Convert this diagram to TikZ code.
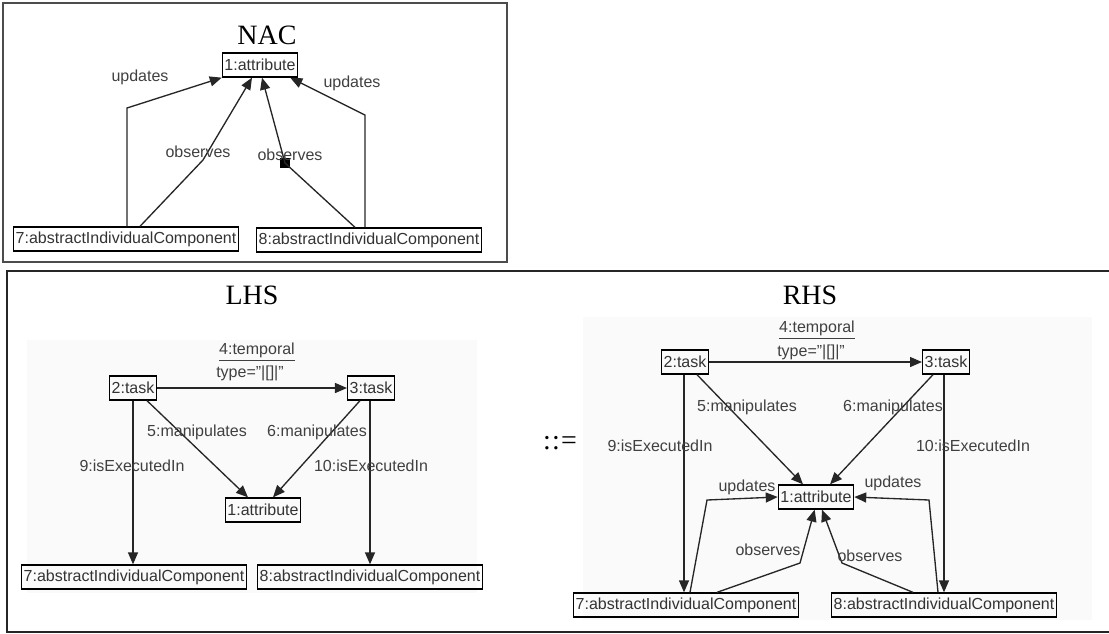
\documentclass[tikz,border=0pt]{standalone}
\usepackage{fontspec}
\setmainfont{Liberation Serif}
\setsansfont{Liberation Sans}
\usetikzlibrary{arrows.meta}

\begin{document}
\begin{tikzpicture}[x=0.75pt,y=-0.75pt,
  obj/.style={draw,line width=1pt,inner xsep=1.5pt,inner ysep=0pt,minimum height=18pt,
    font=\sffamily\fontsize{12}{14}\selectfont,text=black!80},
  lbl/.style={font=\sffamily\fontsize{12}{14}\selectfont,text=black!75,inner sep=1pt},
  ttl/.style={font=\fontsize{21}{25}\selectfont},
  rel/.style={-{Triangle[length=9pt,width=7.5pt]},line width=1pt,black!85}]
\useasboundingbox (0,0) rectangle (1109,633);

% frames and diagram areas
\fill[black!2] (27,340) rectangle (477,593);
\fill[black!2] (583,317) rectangle (1092,620);
\draw[black!70,line width=1pt] (3,3) rectangle (507,262);
\draw[black!85,line width=1.2pt] (1109,271) -- (7,271) -- (7,632) -- (1109,632);

% NAC
\node[ttl] (nacT) at (267,35) {NAC};
\node[obj] (nA1) at (260,65) {1:attribute};
\node[obj] (nC7) at (126,239) {7:abstractIndividualComponent};
\node[obj] (nC8) at (369,240) {8:abstractIndividualComponent};
\coordinate (nU7) at (127,108);
\coordinate (nO7) at (203,160);
\coordinate (nU8) at (365,115);
\node[fill=black,inner sep=0pt,minimum size=7pt] (nSq) at (285,163) {};
\draw[rel] (nU7 |- nC7.north) -- (nU7) -- (nA1.south west);
\draw[rel] ([xshift=10.5pt]nC7.north) -- (nO7) -- ([xshift=-6pt]nA1.south);
\draw[rel] ([xshift=-10.5pt]nC8.north) -- (nSq.center) -- ([xshift=1.5pt]nA1.south);
\draw[rel] (nU8 |- nC8.north) -- (nU8) -- ([xshift=-6pt]nA1.south east);
\node[lbl] (nL1) at (140,77) {updates};
\node[lbl] (nL2) at (198,152) {observes};
\node[lbl] (nL3) at (290,155) {observes};
\node[lbl] (nL4) at (352,83) {updates};

% LHS
\node[ttl] (lhsT) at (252,295) {LHS};
\node[obj] (lT2) at (133,388) {2:task};
\node[obj] (lT3) at (371,388) {3:task};
\node[obj] (lA1) at (263,510) {1:attribute};
\node[obj] (lC7) at (134,577) {7:abstractIndividualComponent};
\node[obj] (lC8) at (370,577) {8:abstractIndividualComponent};
\draw[rel] (lT2.east) -- (lT3.west);
\draw[rel] ([xshift=10.5pt]lT2.south) -- ([xshift=-11.25pt]lA1.north);
\draw[rel] ([xshift=-8.25pt]lT3.south) -- ([xshift=7.5pt]lA1.north);
\draw[rel] (lT2.south) -- (lT2.south |- lC7.north);
\draw[rel] ([xshift=-0.75pt]lT3.south) -- ([xshift=-0.75pt]lT3.south |- lC8.north);
\node[lbl] (lTmp) at (257,352) {\underline{4:temporal}};
\node[lbl] (lTyp) at (250,373) {type=\char34|[]|\char34};
\node[lbl] (lM5) at (197,432) {5:manipulates};
\node[lbl] (lM6) at (317,432) {6:manipulates};
\node[lbl] (lE9) at (132,466) {9:isExecutedIn};
\node[lbl] (lE10) at (371,466) {10:isExecutedIn};

\node[ttl] (defT) at (560,443) {:\kern1pt:\kern1pt=};

% RHS
\node[ttl] (rhsT) at (810,295) {RHS};
\node[obj] (rT2) at (685,362) {2:task};
\node[obj] (rT3) at (946,362) {3:task};
\node[obj] (rA1) at (816,497) {1:attribute};
\node[obj] (rC7) at (686,605) {7:abstractIndividualComponent};
\node[obj] (rC8) at (944,605) {8:abstractIndividualComponent};
\coordinate (rU7) at (707,500);
\coordinate (rU8) at (929,500);
\coordinate (rO7) at (800,563);
\coordinate (rO8) at (842,563);
\draw[rel] (rT2.east) -- (rT3.west);
\draw[rel] ([xshift=9pt]rT2.south) -- ([xshift=-9.75pt]rA1.north);
\draw[rel] ([xshift=-9.75pt]rT3.south) -- ([xshift=10.5pt]rA1.north);
\draw[rel] ([xshift=-0.75pt]rT2.south) -- ([xshift=-0.75pt]rT2.south |- rC7.north);
\draw[rel] ([xshift=-1.5pt]rT3.south) -- ([xshift=-1.5pt]rT3.south |- rC8.north);
\draw[rel] ([xshift=3pt]rC7.north) -- (rU7) -- (rA1.west);
\draw[rel] ([xshift=-4.5pt]rC8.north) -- (rU8) -- (rA1.east);
\draw[rel] ([xshift=23.25pt]rC7.north) -- (rO7) -- ([xshift=-1pt]rA1.south);
\draw[rel] ([xshift=-23.25pt]rC8.north) -- (rO8) -- ([xshift=4.5pt]rA1.south);
\node[lbl] (rTmp) at (817,330) {\underline{4:temporal}};
\node[lbl] (rTyp) at (811,352) {type=\char34|[]|\char34};
\node[lbl] (rM5) at (747,407) {5:manipulates};
\node[lbl] (rM6) at (893,407) {6:manipulates};
\node[lbl] (rE9) at (660,446) {9:isExecutedIn};
\node[lbl] (rE10) at (973,446) {10:isExecutedIn};
\node[lbl] (rL1) at (747,487) {updates};
\node[lbl] (rL2) at (893,483) {updates};
\node[lbl] (rL3) at (768,550) {observes};
\node[lbl] (rL4) at (870,556) {observes};
\end{tikzpicture}
\end{document}
